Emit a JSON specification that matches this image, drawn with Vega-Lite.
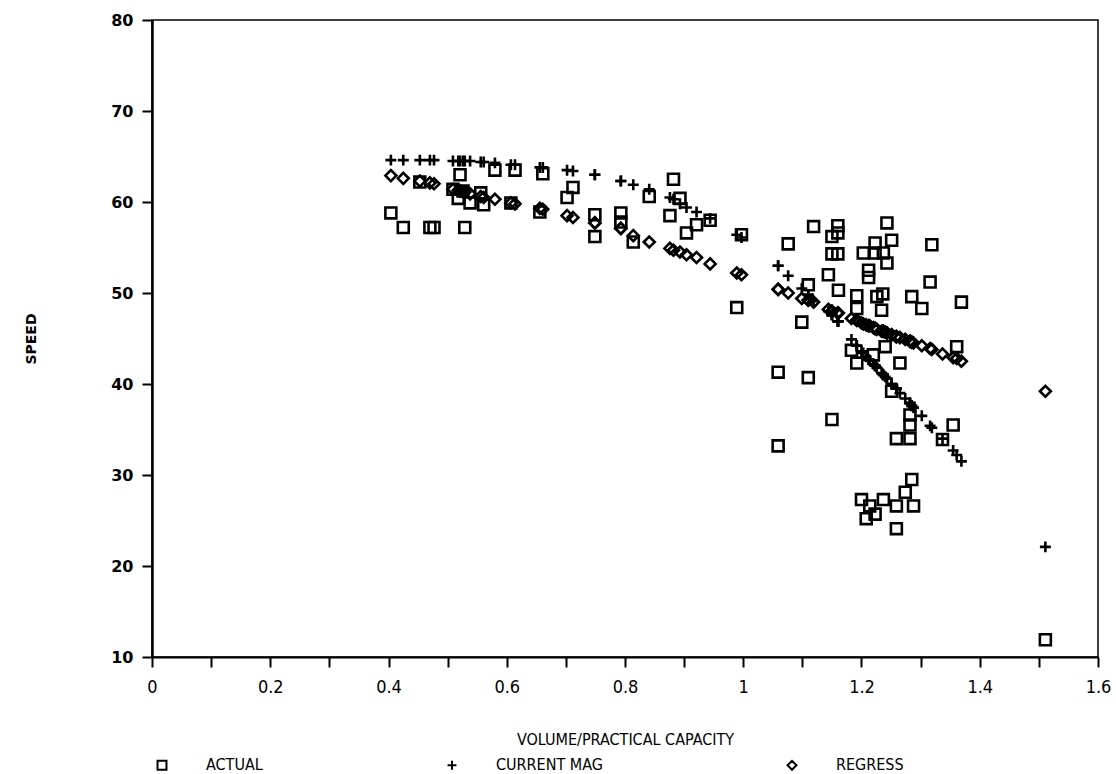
{
  "$schema": "https://vega.github.io/schema/vega-lite/v6.json",
  "width": 946,
  "height": 637,
  "autosize": "none",
  "padding": {"left": 152, "top": 20, "right": 18, "bottom": 117},
  "background": "white",
  "config": {"view": {"stroke": "black", "strokeWidth": 1.5}},
  "data": {"values": [
    {"v":0.404,"actual":58.8,"mag":64.6,"regress":62.9},
    {"v":0.425,"actual":57.2,"mag":64.6,"regress":62.6},
    {"v":0.453,"actual":62.2,"mag":64.6,"regress":62.3},
    {"v":0.470,"actual":57.2,"mag":64.6,"regress":62.1},
    {"v":0.477,"actual":57.2,"mag":64.6,"regress":62.0},
    {"v":0.509,"actual":61.4,"mag":64.5,"regress":61.4},
    {"v":0.518,"actual":60.4,"mag":64.5,"regress":61.3},
    {"v":0.521,"actual":63.0,"mag":64.5,"regress":61.2},
    {"v":0.526,"actual":61.2,"mag":64.5,"regress":61.1},
    {"v":0.529,"actual":57.2,"mag":64.5,"regress":61.1},
    {"v":0.538,"actual":59.9,"mag":64.5,"regress":60.9},
    {"v":0.556,"actual":61.0,"mag":64.4,"regress":60.6},
    {"v":0.561,"actual":59.7,"mag":64.4,"regress":60.5},
    {"v":0.580,"actual":63.5,"mag":64.3,"regress":60.3},
    {"v":0.607,"actual":59.9,"mag":64.1,"regress":59.9},
    {"v":0.614,"actual":63.5,"mag":64.1,"regress":59.8},
    {"v":0.656,"actual":58.9,"mag":63.8,"regress":59.3},
    {"v":0.661,"actual":63.1,"mag":63.8,"regress":59.2},
    {"v":0.702,"actual":60.5,"mag":63.5,"regress":58.5},
    {"v":0.712,"actual":61.6,"mag":63.4,"regress":58.3},
    {"v":0.749,"actual":58.6,"mag":63.0,"regress":57.7},
    {"v":0.749,"actual":56.2,"mag":63.0,"regress":57.7},
    {"v":0.793,"actual":58.8,"mag":62.3,"regress":57.1},
    {"v":0.793,"actual":57.8,"mag":62.3,"regress":57.1},
    {"v":0.814,"actual":55.6,"mag":61.9,"regress":56.3},
    {"v":0.841,"actual":60.6,"mag":61.4,"regress":55.6},
    {"v":0.876,"actual":58.5,"mag":60.5,"regress":54.9},
    {"v":0.882,"actual":62.5,"mag":60.3,"regress":54.7},
    {"v":0.893,"actual":60.4,"mag":59.8,"regress":54.5},
    {"v":0.904,"actual":56.6,"mag":59.4,"regress":54.2},
    {"v":0.921,"actual":57.5,"mag":58.9,"regress":53.9},
    {"v":0.944,"actual":58.0,"mag":58.2,"regress":53.2},
    {"v":0.989,"actual":48.4,"mag":56.4,"regress":52.2},
    {"v":0.997,"actual":56.4,"mag":56.1,"regress":52.0},
    {"v":1.059,"actual":41.3,"mag":53.0,"regress":50.4},
    {"v":1.059,"actual":33.2,"mag":53.0,"regress":50.4},
    {"v":1.076,"actual":55.4,"mag":51.9,"regress":50.0},
    {"v":1.099,"actual":46.8,"mag":50.5,"regress":49.4},
    {"v":1.110,"actual":50.9,"mag":49.8,"regress":49.2},
    {"v":1.110,"actual":40.7,"mag":49.8,"regress":49.2},
    {"v":1.119,"actual":57.3,"mag":49.1,"regress":49.0},
    {"v":1.144,"actual":52.0,"mag":48.0,"regress":48.2},
    {"v":1.150,"actual":56.2,"mag":47.6,"regress":48.0},
    {"v":1.150,"actual":54.3,"mag":47.6,"regress":48.0},
    {"v":1.150,"actual":36.1,"mag":47.6,"regress":48.0},
    {"v":1.160,"actual":57.4,"mag":46.9,"regress":47.8},
    {"v":1.160,"actual":56.6,"mag":46.9,"regress":47.8},
    {"v":1.160,"actual":54.3,"mag":46.9,"regress":47.8},
    {"v":1.161,"actual":50.3,"mag":46.9,"regress":47.8},
    {"v":1.183,"actual":43.7,"mag":44.9,"regress":47.2},
    {"v":1.192,"actual":49.7,"mag":44.2,"regress":47.0},
    {"v":1.192,"actual":48.3,"mag":44.2,"regress":47.0},
    {"v":1.192,"actual":42.3,"mag":44.2,"regress":47.0},
    {"v":1.200,"actual":27.3,"mag":43.6,"regress":46.7},
    {"v":1.203,"actual":54.4,"mag":43.4,"regress":46.6},
    {"v":1.208,"actual":25.2,"mag":43.0,"regress":46.5},
    {"v":1.212,"actual":52.5,"mag":42.7,"regress":46.4},
    {"v":1.212,"actual":51.7,"mag":42.7,"regress":46.4},
    {"v":1.214,"actual":26.6,"mag":42.6,"regress":46.4},
    {"v":1.220,"actual":43.2,"mag":42.2,"regress":46.2},
    {"v":1.223,"actual":55.5,"mag":42.0,"regress":46.1},
    {"v":1.223,"actual":54.4,"mag":42.0,"regress":46.1},
    {"v":1.223,"actual":25.7,"mag":42.0,"regress":46.1},
    {"v":1.226,"actual":49.6,"mag":41.8,"regress":46.0},
    {"v":1.234,"actual":48.1,"mag":41.2,"regress":45.8},
    {"v":1.236,"actual":49.9,"mag":41.1,"regress":45.8},
    {"v":1.237,"actual":54.4,"mag":41.0,"regress":45.8},
    {"v":1.237,"actual":27.3,"mag":41.0,"regress":45.8},
    {"v":1.240,"actual":44.1,"mag":40.8,"regress":45.7},
    {"v":1.243,"actual":57.7,"mag":40.6,"regress":45.6},
    {"v":1.243,"actual":53.3,"mag":40.6,"regress":45.6},
    {"v":1.251,"actual":55.8,"mag":40.0,"regress":45.4},
    {"v":1.251,"actual":39.2,"mag":40.0,"regress":45.4},
    {"v":1.259,"actual":34.0,"mag":39.5,"regress":45.2},
    {"v":1.259,"actual":26.6,"mag":39.5,"regress":45.2},
    {"v":1.259,"actual":24.1,"mag":39.5,"regress":45.2},
    {"v":1.265,"actual":42.3,"mag":39.0,"regress":45.1},
    {"v":1.274,"actual":28.1,"mag":38.4,"regress":44.9},
    {"v":1.282,"actual":36.6,"mag":37.9,"regress":44.7},
    {"v":1.282,"actual":35.5,"mag":37.9,"regress":44.7},
    {"v":1.282,"actual":34.0,"mag":37.9,"regress":44.7},
    {"v":1.285,"actual":49.6,"mag":37.6,"regress":44.6},
    {"v":1.285,"actual":29.5,"mag":37.6,"regress":44.6},
    {"v":1.288,"actual":26.6,"mag":37.4,"regress":44.5},
    {"v":1.302,"actual":48.3,"mag":36.5,"regress":44.2},
    {"v":1.316,"actual":51.2,"mag":35.4,"regress":43.9},
    {"v":1.319,"actual":55.3,"mag":35.2,"regress":43.8},
    {"v":1.337,"actual":33.9,"mag":34.0,"regress":43.3},
    {"v":1.355,"actual":35.5,"mag":32.7,"regress":42.9},
    {"v":1.361,"actual":44.1,"mag":32.2,"regress":42.8},
    {"v":1.369,"actual":49.0,"mag":31.5,"regress":42.5},
    {"v":1.511,"actual":11.9,"mag":22.1,"regress":39.2}
  ]},
  "transform": [{"fold": ["actual", "mag", "regress"], "as": ["series", "speed"]}],
  "mark": {"type": "point", "filled": false, "stroke": "black", "strokeWidth": 2.6, "opacity": 1, "size": 120},
  "encoding": {
    "x": {
      "field": "v", "type": "quantitative",
      "scale": {"domain": [0, 1.6], "nice": false, "zero": false},
      "axis": {
        "values": [0, 0.1, 0.2, 0.3, 0.4, 0.5, 0.6, 0.7, 0.8, 0.9, 1, 1.1, 1.2, 1.3, 1.4, 1.5, 1.6],
        "labelExpr": "round(datum.value * 10) % 2 == 0 ? format(datum.value, '~g') : ''",
        "title": "VOLUME/PRACTICAL CAPACITY",
        "grid": false,
        "domainColor": "black", "domainWidth": 2,
        "tickColor": "black", "tickWidth": 2, "tickSize": 10,
        "labelFont": "'Liberation Sans Narrow', 'DejaVu Sans Condensed', 'Roboto Condensed', sans-serif",
        "labelFontSize": 18, "labelColor": "black", "labelPadding": 11,
        "labelFlush": false, "labelOverlap": false, "labelBound": false,
        "titleFont": "'Liberation Sans Narrow', 'DejaVu Sans Condensed', 'Roboto Condensed', sans-serif",
        "titleFontSize": 16, "titleFontWeight": "normal", "titleColor": "black", "titlePadding": 35
      }
    },
    "y": {
      "field": "speed", "type": "quantitative",
      "scale": {"domain": [10, 80], "nice": false, "zero": false},
      "axis": {
        "values": [10, 20, 30, 40, 50, 60, 70, 80],
        "title": "SPEED",
        "grid": false,
        "domainColor": "black", "domainWidth": 2.5,
        "tickColor": "black", "tickWidth": 2, "tickSize": 10,
        "labelFont": "DejaVu Sans", "labelFontWeight": "bold",
        "labelFontSize": 16, "labelColor": "black", "labelPadding": 9,
        "titleFont": "DejaVu Sans", "titleFontWeight": "bold",
        "titleFontSize": 14, "titleColor": "black", "titlePadding": 72
      }
    },
    "shape": {
      "field": "series", "type": "nominal",
      "scale": {"domain": ["actual", "mag", "regress"], "range": ["square", "M-1,0H1M0,-1V1", "diamond"]},
      "legend": {
        "title": null,
        "orient": "none", "legendX": 2, "legendY": 737,
        "direction": "horizontal",
        "labelExpr": "datum.label == 'actual' ? 'ACTUAL' : datum.label == 'mag' ? 'CURRENT MAG' : 'REGRESS'",
        "labelFont": "'Liberation Sans Narrow', 'DejaVu Sans Condensed', 'Roboto Condensed', sans-serif",
        "labelFontSize": 16, "labelColor": "black",
        "labelOffset": 36,
        "columnPadding": 180,
        "symbolSize": 80, "symbolStrokeWidth": 2, "symbolStrokeColor": "black", "symbolFillColor": "transparent"
      }
    }
  }
}
